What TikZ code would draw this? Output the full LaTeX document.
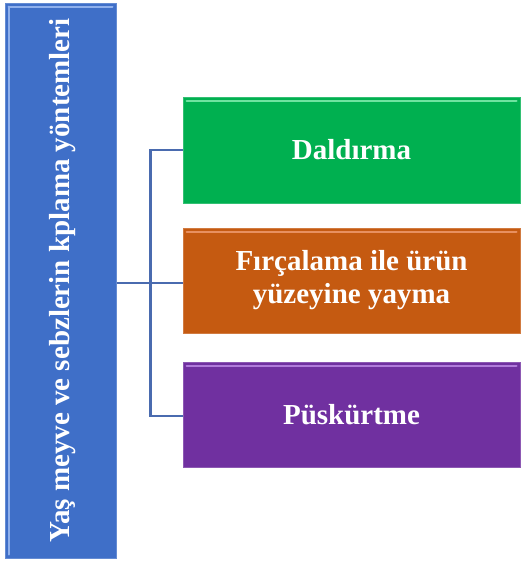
\documentclass[tikz,border=0pt]{standalone}
\usepackage{fontspec}
\setmainfont{Liberation Serif}
\usetikzlibrary{positioning}
\definecolor{kokmavi}{HTML}{3F6FC8}
\definecolor{kokmaviacik}{HTML}{8FB0EC}
\definecolor{yesil}{HTML}{00B050}
\definecolor{yesilacik}{HTML}{6EE3A0}
\definecolor{turuncu}{HTML}{C55A11}
\definecolor{turuncuacik}{HTML}{E89060}
\definecolor{mor}{HTML}{7030A0}
\definecolor{moracik}{HTML}{B07BDA}
\definecolor{hat}{HTML}{4A6BAF}
\tikzset{
  kutu/.style={draw=#1!80!white, line width=1pt, fill=#1, text=white,
    font=\bfseries\fontsize{29}{33}\selectfont, align=center, inner sep=0pt},
  dal/.style={draw=hat, line width=2.5pt},
  parilti/.style={draw=#1, line width=2pt, line cap=round}
}
\begin{document}
\begin{tikzpicture}[x=1pt, y=-1pt]
\useasboundingbox (0,0) rectangle (521,562);
% ana kutu
\node (kok)[kutu=kokmavi, minimum width=111pt, minimum height=555pt] at (60.5,280.5) {};
\node (kokyazi)[rotate=90, text=white, font=\bfseries\fontsize{29}{33}\selectfont] at ([xshift=2pt]kok.center) {Yaş meyve ve sebzlerin kplama yöntemleri};
% alt kutular
\node (d1)[kutu=yesil, minimum width=337pt, minimum height=106pt] at (351.5,150) {Daldırma};
\node (d2)[kutu=turuncu, minimum width=337pt, minimum height=105pt] at (351.5,280.5) {Fırçalama ile ürün\\yüzeyine yayma};
\node (d3)[kutu=mor, minimum width=337pt, minimum height=105pt] at (351.5,414.5) {Püskürtme};
% parlak kenarlar
\draw[parilti=kokmaviacik] ([shift={(4pt,-4pt)}]kok.north west) -- ([shift={(-4pt,-4pt)}]kok.north east);
\draw[parilti=kokmaviacik] ([shift={(4pt,-4pt)}]kok.north west) -- ([shift={(4pt,4pt)}]kok.south west);
\draw[parilti=yesilacik] ([shift={(4pt,-4pt)}]d1.north west) -- ([shift={(-4pt,-4pt)}]d1.north east);
\draw[parilti=turuncuacik] ([shift={(4pt,-4pt)}]d2.north west) -- ([shift={(-4pt,-4pt)}]d2.north east);
\draw[parilti=moracik] ([shift={(4pt,-4pt)}]d3.north west) -- ([shift={(-4pt,-4pt)}]d3.north east);
% baglantilar
\draw[dal] ([yshift=-2.5pt]kok.east) -- ++(34,0) coordinate (orta);
\draw[dal] (orta) |- (d1.west);
\draw[dal] (orta) |- ([yshift=-2.5pt]d2.west);
\draw[dal] (orta) |- ([yshift=-1.5pt]d3.west);
\end{tikzpicture}
\end{document}
